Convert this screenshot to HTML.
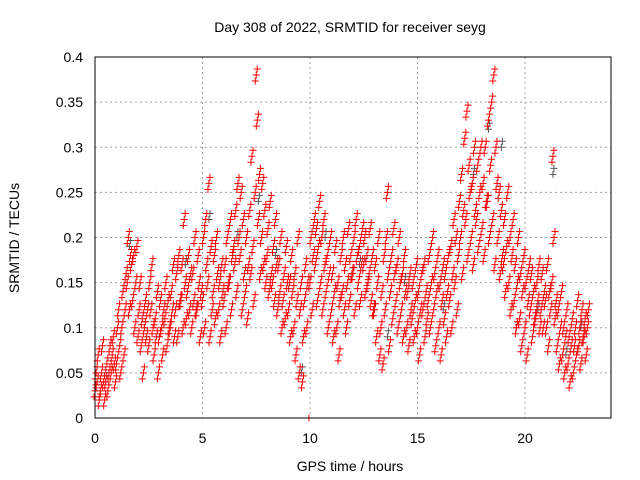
<!DOCTYPE html>
<html><head><meta charset="utf-8"><style>
html,body{margin:0;padding:0;background:#fff;}
svg{display:block;font-family:"Liberation Sans",sans-serif;}
</style></head><body>
<svg id="chart" width="640" height="480">
<rect width="640" height="480" fill="#fff"/>
<text x="350" y="32" font-size="14" text-anchor="middle">Day 308 of 2022, SRMTID for receiver seyg</text>
<text x="350" y="471" font-size="14" text-anchor="middle">GPS time / hours</text>
<text x="19" y="238" font-size="14" text-anchor="middle" transform="rotate(-90 19 238)">SRMTID / TECUs</text>
<g id="grid"></g>
<g id="ticks"></g>
<g id="points"></g>
<rect x="95" y="57" width="516" height="361" fill="none" stroke="#000" stroke-width="1"/>
</svg>
<script>
const xTicks=[0,5,10,15,20];
const yTicks=[0,0.05,0.1,0.15,0.2,0.25,0.3,0.35,0.4];
const yTickLabels=["0","0.05","0.1","0.15","0.2","0.25","0.3","0.35","0.4"];
const binHours=[0,0.25,0.5,0.75,1,1.25,1.5,1.75,2,2.25,2.5,2.75,3,3.25,3.5,3.75,4,4.25,4.5,4.75,5,5.25,5.5,5.75,6,6.25,6.5,6.75,7,7.25,7.5,7.75,8,8.25,8.5,8.75,9,9.25,9.5,9.75,10,10.25,10.5,10.75,11,11.25,11.5,11.75,12,12.25,12.5,12.75,13,13.25,13.5,13.75,14,14.25,14.5,14.75,15,15.25,15.5,15.75,16,16.25,16.5,16.75,17,17.25,17.5,17.75,18,18.25,18.5,18.75,19,19.25,19.5,19.75,20,20.25,20.5,20.75,21,21.25,21.5,21.75,22,22.25,22.5,22.75];
const srmtid=[
[.03,.05,.04,.07,.02],[.03,.05,.08,.04,.02],[.04,.06,.03,.05,.08],[.05,.07,.09,.06,.04],
[.06,.1,.12,.08,.05],[.1,.14,.07,.12,.16],[.15,.2,.12,.18,.17],[.13,.18,.1,.15,.19],
[.09,.12,.15,.08,.11],[.05,.1,.13,.09,.12],[.08,.15,.12,.17,.1],[.07,.11,.09,.14,.05],
[.09,.13,.1,.07,.12],[.11,.15,.08,.13,.1],[.1,.14,.12,.17,.09],[.12,.16,.09,.18,.13],
[.13,.17,.1,.22,.15],[.11,.14,.18,.12,.16],[.1,.16,.13,.2,.12],[.12,.18,.15,.09,.14],
[.13,.2,.1,.22,.17],[.15,.26,.09,.19,.12],[.14,.18,.11,.2,.16],[.12,.15,.09,.17,.14],
[.13,.17,.1,.2,.15],[.15,.22,.12,.18,.19],[.17,.23,.14,.26,.2],[.18,.25,.12,.22,.16],
[.14,.2,.11,.17,.23],[.16,.29,.19,.13,.25],[.38,.33,.22,.27,.16],[.2,.26,.17,.23,.15],
[.18,.21,.14,.24,.16],[.15,.19,.13,.22,.17],[.12,.17,.14,.2,.1],[.13,.16,.11,.19,.15],
[.12,.15,.09,.18,.14],[.1,.16,.07,.13,.2],[.05,.12,.15,.04,.09],[.13,.17,.1,.15,.0],
[.15,.2,.12,.18,.22],[.17,.21,.13,.19,.24],[.15,.2,.12,.22,.17],[.14,.18,.1,.16,.2],
[.12,.16,.09,.14,.19],[.1,.15,.07,.13,.18],[.14,.2,.12,.17,.1],[.15,.21,.13,.18,.16],
[.16,.2,.12,.22,.18],[.15,.19,.13,.17,.21],[.17,.2,.14,.18,.15],[.16,.21,.13,.18,.12],
[.12,.17,.09,.15,.2],[.07,.1,.14,.06,.18],[.12,.2,.25,.16,.08],[.14,.18,.11,.21,.16],
[.13,.17,.1,.2,.15],[.12,.16,.09,.18,.14],[.1,.14,.08,.16,.12],[.11,.15,.09,.13,.17],
[.1,.14,.07,.12,.16],[.12,.17,.09,.14,.11],[.13,.18,.1,.15,.2],[.12,.16,.08,.14,.18],
[.1,.15,.07,.13,.17],[.11,.16,.09,.14,.18],[.13,.19,.1,.16,.22],[.15,.2,.12,.18,.24],
[.2,.27,.16,.23,.31],[.22,.34,.18,.28,.25],[.2,.26,.17,.3,.23],[.22,.28,.19,.25,.3],
[.21,.26,.18,.3,.24],[.24,.33,.2,.28,.35],[.22,.38,.17,.3,.26],[.2,.25,.16,.23,.18],
[.17,.22,.14,.19,.25],[.15,.2,.12,.18,.22],[.13,.17,.1,.15,.2],[.11,.16,.08,.14,.18],
[.1,.15,.07,.13,.17],[.12,.16,.09,.14,.11],[.11,.15,.13,.17,.1],[.12,.16,.1,.14,.13],
[.1,.17,.08,.14,.12],[.15,.29,.2,.11,.13],[.08,.12,.06,.1,.14],[.07,.1,.05,.09,.12],
[.06,.09,.04,.08,.11],[.05,.08,.1,.07,.13],[.08,.1,.06,.12,.09],[.09,.11,.07,.1,.12]];
const grayHours=[0.4,1.6,2.3,4.2,5.3,6.6,7.6,8.4,9.6,10.7,12.3,13.6,14.4,16.2,17.6,18.3,18.9,19.6,20.6,21.3,21.9,22.6];
const grayValues=[0.04,0.19,0.1,0.17,0.22,0.2,0.24,0.18,0.05,0.2,0.17,0.09,0.15,0.12,0.27,0.32,0.3,0.1,0.12,0.27,0.07,0.1];

const X0=95,X1=611,Y0=418,Y1=57;
const xs=h=>X0+(h/24)*(X1-X0);
const ys=v=>Y0-(v/0.4)*(Y0-Y1);
const NS="http://www.w3.org/2000/svg";
const grid=document.getElementById('grid'),ticks=document.getElementById('ticks'),pts=document.getElementById('points');
function mk(tag,attrs,parent){const e=document.createElementNS(NS,tag);for(const k in attrs)e.setAttribute(k,attrs[k]);parent.appendChild(e);return e;}
xTicks.forEach(t=>{
  const x=xs(t);
  if(t>0){const g=mk('line',{x1:x,x2:x,y1:Y1,y2:Y0,stroke:'#a0a0a0','stroke-dasharray':'2,3'},grid);
  
  }
  const l=mk('text',{x:x,y:443,'font-size':14,'text-anchor':'middle'},ticks);l.textContent=t;
  
  
});
yTicks.forEach((t,i)=>{
  const y=ys(t);
  if(t>0&&t<0.4){const g=mk('line',{x1:X0,x2:X1,y1:y,y2:y,stroke:'#a0a0a0','stroke-dasharray':'2,3'},grid);
  
  }
  const l=mk('text',{x:83,y:y+5,'font-size':14,'text-anchor':'end'},ticks);l.textContent=yTickLabels[i];
  
  
});
// each datum drawn as a short vertical stack of '+' markers (pixel offsets are styling only)
const clusterDx=[0,1,-1,0];
const clusterDy=[0,-6,6,-12];
function plus(h,v,color,n){
  const x=xs(h),y=ys(v);
  let d='';
  for(let k=0;k<n;k++){const cx=x+clusterDx[k],cy=y+clusterDy[k];d+=`M${cx-3.5},${cy}h7M${cx},${cy-3.5}v7`;}
  const p=mk('path',{d:d,stroke:color,'stroke-width':1,fill:'none'},pts);
  
  
}
grayHours.forEach((h,i)=>plus(h,grayValues[i],'#555',2));
binHours.forEach((h,i)=>{
  srmtid[i].forEach((v,j)=>plus(h+j*0.05,v,'#ff0000',v===0?1:3));
});
</script>
</body></html>
